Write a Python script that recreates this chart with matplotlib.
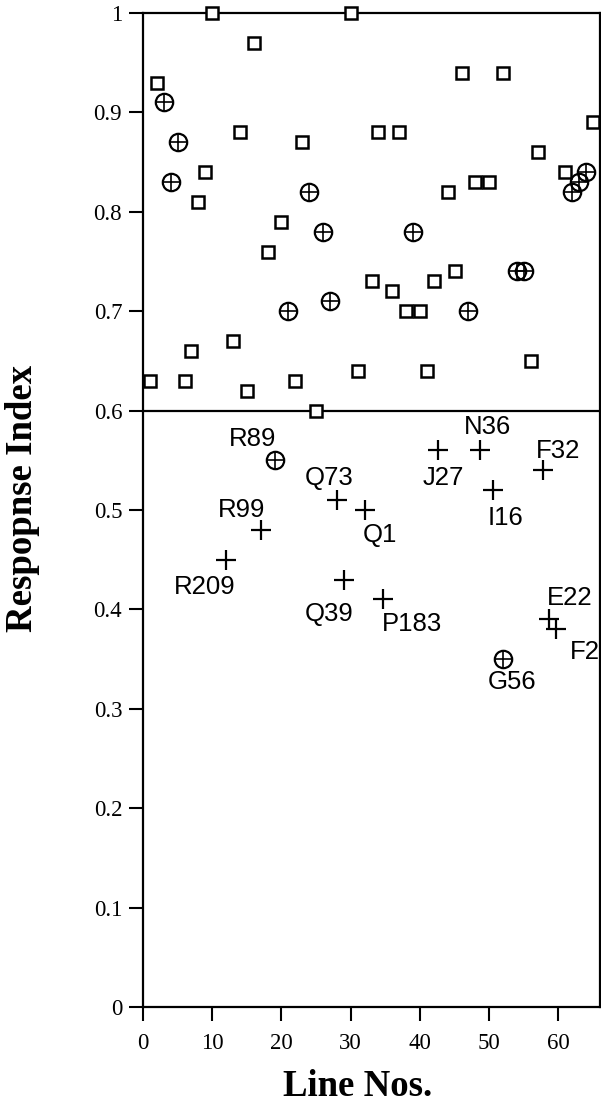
import numpy as np
import matplotlib
matplotlib.use("Agg")
import matplotlib.pyplot as plt

# responding lines (open squares)
sq_x = [10, 30, 16, 2, 14, 23, 9, 8, 20, 18, 46, 52, 65, 34, 37, 57, 61, 48,
        50, 44, 45, 33, 42, 36, 38, 40, 1, 6, 7, 13, 15, 22, 31, 25, 41, 56]
sq_y = [1.00, 1.00, 0.97, 0.93, 0.88, 0.87, 0.84, 0.81, 0.79, 0.76, 0.94, 0.94,
        0.89, 0.88, 0.88, 0.86, 0.84, 0.83, 0.83, 0.82, 0.74, 0.73, 0.73, 0.72,
        0.70, 0.70, 0.63, 0.63, 0.66, 0.67, 0.62, 0.63, 0.64, 0.60, 0.64, 0.65]

# circled-plus lines
ci_x = [3, 5, 4, 24, 26, 27, 21, 39, 64, 63, 62, 54, 55, 47, 19, 52]
ci_y = [0.91, 0.87, 0.83, 0.82, 0.78, 0.71, 0.70, 0.78, 0.84, 0.83, 0.82,
        0.74, 0.74, 0.70, 0.55, 0.35]

# non-responding lines (plus)
pl_x = [28, 32, 17, 12, 29, 48.6, 42.6, 57.8, 50.5, 34.7, 58.6, 59.6]
pl_y = [0.51, 0.50, 0.48, 0.45, 0.43, 0.56, 0.56, 0.54, 0.52, 0.41, 0.39, 0.38]

# labelled points: name, x, y, label offset (pixels)
lab_names = ["R89", "Q73", "Q1", "R99", "R209", "Q39", "N36", "J27",
             "F32", "I16", "P183", "E22", "F2", "G56"]
lab_x = [19, 28, 32, 17, 12, 29, 48.6, 42.6, 57.8, 50.5, 34.7, 58.6, 59.6, 52]
lab_y = [0.55, 0.51, 0.50, 0.48, 0.45, 0.43, 0.56, 0.56, 0.54, 0.52, 0.41,
         0.39, 0.38, 0.35]
lab_dx = [-22, -8, 15, -19, -21, -15, 8, 5, 15, 13, 29, 21, 14, 9]
lab_dy = [21, 22, -25, 20, -27, -34, 23, -28, 19, -28, -25, 21, -23, -23]
lab_ha = ["center"] * 12 + ["left", "center"]

W, H = 601, 1105
fig = plt.figure(figsize=(W / 100, H / 100), dpi=100)
ax = fig.add_axes([143 / W, 98 / H, (600 - 143) / W, (1007 - 13) / H])

ax.plot(sq_x, sq_y, ls="none", marker="s", ms=8.5, mfc="white", mec="black",
        mew=1.8, clip_on=False, zorder=3)
ax.plot(ci_x, ci_y, ls="none", marker="o", ms=12.5, mfc="none", mec="black",
        mew=1.6, clip_on=False, zorder=3)
ax.plot(ci_x, ci_y, ls="none", marker="+", ms=12.5, mec="black", mew=1.2,
        clip_on=False, zorder=3)
ax.plot(pl_x, pl_y, ls="none", marker="+", ms=14, mec="black", mew=1.6,
        zorder=3)

ax.axhline(0.6, color="black", lw=1.6, zorder=2)

for name, x, y, dx, dy, ha in zip(lab_names, lab_x, lab_y, lab_dx, lab_dy, lab_ha):
    ax.annotate(name, (x, y), xytext=(dx, dy), textcoords="offset pixels",
                ha=ha, va="center", fontsize=18.5, family="Liberation Sans",
                annotation_clip=False)

ax.set_xlim(0, 66)
ax.set_ylim(0, 1)
ax.set_xticks(np.arange(0, 61, 10))
ax.set_yticks(np.arange(0, 1.01, 0.1))
ax.set_yticklabels(["0"] + ["%.1f" % v for v in np.arange(0.1, 0.95, 0.1)] + ["1"])
for lbl in ax.get_xticklabels() + ax.get_yticklabels():
    lbl.set_family("Liberation Serif")
    lbl.set_fontsize(16.5)
ax.tick_params(direction="out", length=10, width=1.5, color="black")
ax.tick_params(axis="y", pad=5)
ax.tick_params(axis="x", pad=9)
for s in ax.spines.values():
    s.set_linewidth(1.6)

fig.text(23 / W, 1 - 498 / H, "Respopnse Index", rotation=90, ha="center",
         va="center", fontsize=26.5, fontweight="bold", family="Liberation Serif")
fig.text(358 / W, 1 - 1086 / H, "Line Nos.", ha="center", va="center",
         fontsize=26.5, fontweight="bold", family="Liberation Serif")

fig.savefig("out.png", dpi=100)
